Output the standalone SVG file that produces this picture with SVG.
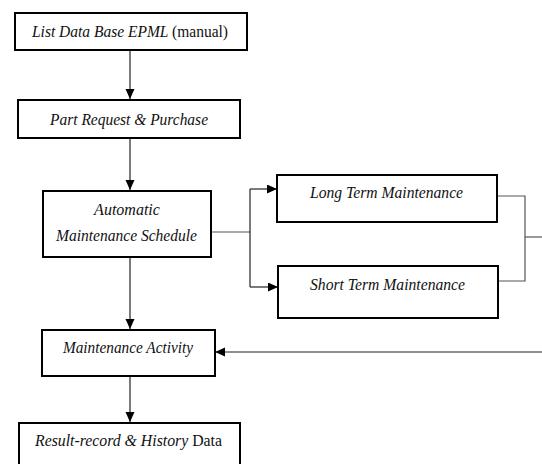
<svg xmlns="http://www.w3.org/2000/svg" width="542" height="464" viewBox="0 0 542 464">
<style>
.box{fill:#fff;stroke:#000;stroke-width:2}
.t{font-family:'Liberation Serif','Times New Roman',serif;font-size:16px;font-style:italic;fill:#111;text-anchor:middle}
.r{font-style:normal}
.c{fill:none;stroke:#222;stroke-width:1.2}
.g{fill:none;stroke:#555;stroke-width:1.2}
</style>
<defs>
<marker id="ah" markerUnits="userSpaceOnUse" markerWidth="11" markerHeight="10" refX="10" refY="4.5" orient="auto">
<path d="M0,0 L10,4.5 L0,9 z" fill="#000"/>
</marker>
</defs>
<rect width="542" height="464" fill="#fff"/>
<g id="connectors">
<line class="c" x1="130" y1="51" x2="130" y2="99" marker-end="url(#ah)"/>
<line class="c" x1="130" y1="139" x2="130" y2="190" marker-end="url(#ah)"/>
<polyline class="g" points="212,232 250,232"/>
<polyline class="c" points="250,189 250,287"/>
<line class="c" x1="250" y1="189" x2="277" y2="189" marker-end="url(#ah)"/>
<line class="c" x1="250" y1="287" x2="278" y2="287" marker-end="url(#ah)"/>
<polyline class="g" points="498,196 525,196 525,281 499,281"/>
<line class="g" x1="525" y1="237" x2="542" y2="237"/>
<line class="c" x1="542" y1="352" x2="215" y2="352" marker-end="url(#ah)"/>
<line class="c" x1="130" y1="258" x2="130" y2="329" marker-end="url(#ah)"/>
<line class="c" x1="130" y1="377" x2="130" y2="422" marker-end="url(#ah)"/>
</g>
<g id="n1">
<rect class="box" x="15" y="13" width="232" height="37"/>
<text class="t" x="130" y="37" textLength="196" lengthAdjust="spacingAndGlyphs">List Data Base EPML <tspan class="r">(manual)</tspan></text>
</g>
<g id="n2">
<rect class="box" x="18" y="100" width="222" height="38"/>
<text class="t" x="129" y="125" textLength="158" lengthAdjust="spacingAndGlyphs">Part Request &amp; Purchase</text>
</g>
<g id="n3">
<rect class="box" x="43" y="191" width="168" height="66"/>
<text class="t" x="127" y="215">Automatic</text>
<text class="t" x="126.5" y="241" textLength="141" lengthAdjust="spacingAndGlyphs">Maintenance Schedule</text>
</g>
<g id="n4">
<rect class="box" x="277" y="175" width="220" height="47"/>
<text class="t" x="386.5" y="198" textLength="153" lengthAdjust="spacingAndGlyphs">Long Term Maintenance</text>
</g>
<g id="n5">
<rect class="box" x="278" y="266" width="220" height="52"/>
<text class="t" x="387.5" y="290" textLength="155" lengthAdjust="spacingAndGlyphs">Short Term Maintenance</text>
</g>
<g id="n6">
<rect class="box" x="42" y="330" width="173" height="46"/>
<text class="t" x="128" y="353" textLength="130" lengthAdjust="spacingAndGlyphs">Maintenance Activity</text>
</g>
<g id="n7">
<rect class="box" x="19" y="423" width="221" height="50"/>
<text class="t" x="128.5" y="446" textLength="187" lengthAdjust="spacingAndGlyphs">Result-record &amp; History <tspan class="r">Data</tspan></text>
</g>
</svg>
